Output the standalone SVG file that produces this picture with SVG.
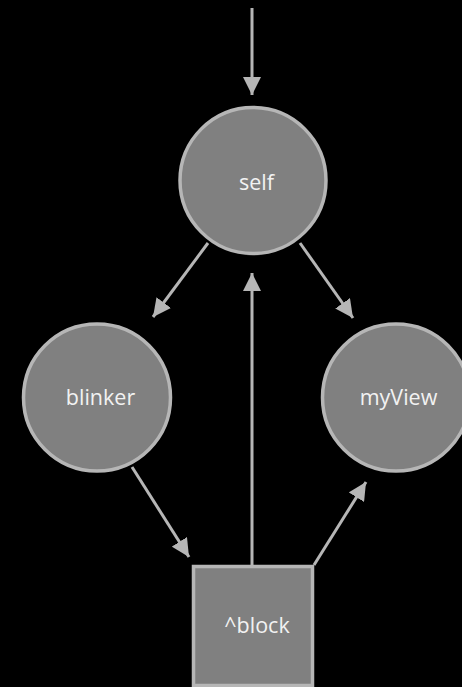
<svg xmlns="http://www.w3.org/2000/svg" width="462" height="687" viewBox="0 0 462 687">
<defs>
<style>
.node{fill:#808080;stroke:#b6b6b6;stroke-width:3.5}
.lbl{font-family:"Open Sans","Liberation Sans",sans-serif;font-size:21.5px;fill:#f2f2f2;text-anchor:middle}
.edge{stroke:#b6b6b6;stroke-width:3;fill:none}
</style>
<marker id="ah" markerUnits="userSpaceOnUse" markerWidth="18" markerHeight="18" viewBox="0 0 18 18" refX="18" refY="9" orient="auto">
<path d="M0,0 L18,9 L0,18 Z" fill="#b6b6b6"/>
</marker>
</defs>
<rect width="462" height="687" fill="#000"/>
<g id="connectors">
<line class="edge" x1="252" y1="8" x2="252" y2="95" marker-end="url(#ah)"/>
<line class="edge" x1="208" y1="243" x2="153" y2="317" marker-end="url(#ah)"/>
<line class="edge" x1="300" y1="243" x2="353" y2="318" marker-end="url(#ah)"/>
<line class="edge" x1="252" y1="565" x2="252" y2="273" marker-end="url(#ah)"/>
<line class="edge" x1="132" y1="467" x2="189" y2="557" marker-end="url(#ah)"/>
<line class="edge" x1="314" y1="565" x2="366" y2="482" marker-end="url(#ah)"/>
</g>
<g id="self">
<circle class="node" cx="253" cy="180.5" r="73"/>
<text class="lbl" x="256.5" y="190">self</text>
</g>
<g id="blinker">
<circle class="node" cx="97" cy="397.5" r="73.5"/>
<text class="lbl" x="100.5" y="405">blinker</text>
</g>
<g id="myView">
<circle class="node" cx="396" cy="397.5" r="73.5"/>
<text class="lbl" x="398.5" y="405">myView</text>
</g>
<g id="block">
<rect class="node" x="193.5" y="566.5" width="119" height="119"/>
<text class="lbl" x="257" y="633">^block</text>
</g>
</svg>
